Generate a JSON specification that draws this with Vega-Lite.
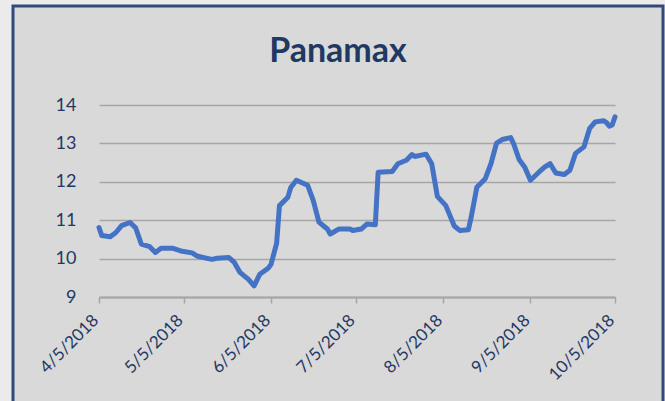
{
  "$schema": "https://vega.github.io/schema/vega-lite/v6.json",
  "width": 650,
  "height": 400,
  "autosize": "none",
  "padding": {"left": 13, "top": 6, "right": 2, "bottom": 0},
  "background": "#ebebeb",
  "config": {
    "view": {"fill": "#d9d9d9", "stroke": "#2f4b7c", "strokeWidth": 3},
    "font": "Lato"
  },
  "title": {
    "text": "Panamax",
    "font": "Lato",
    "fontSize": 34,
    "fontWeight": "bold",
    "color": "#1f3864",
    "anchor": "middle",
    "frame": "group",
    "baseline": "alphabetic",
    "offset": -90
  },
  "data": {
    "values": [
      {"date": "2018-04-05", "value": 10.81},
      {"date": "2018-04-06", "value": 10.60},
      {"date": "2018-04-09", "value": 10.57},
      {"date": "2018-04-11", "value": 10.68},
      {"date": "2018-04-13", "value": 10.86},
      {"date": "2018-04-16", "value": 10.94},
      {"date": "2018-04-18", "value": 10.80},
      {"date": "2018-04-20", "value": 10.38},
      {"date": "2018-04-23", "value": 10.31},
      {"date": "2018-04-25", "value": 10.16},
      {"date": "2018-04-27", "value": 10.27},
      {"date": "2018-05-01", "value": 10.27},
      {"date": "2018-05-04", "value": 10.20},
      {"date": "2018-05-08", "value": 10.15},
      {"date": "2018-05-10", "value": 10.06},
      {"date": "2018-05-15", "value": 9.98},
      {"date": "2018-05-17", "value": 10.01},
      {"date": "2018-05-21", "value": 10.03},
      {"date": "2018-05-23", "value": 9.90},
      {"date": "2018-05-25", "value": 9.64},
      {"date": "2018-05-28", "value": 9.46},
      {"date": "2018-05-30", "value": 9.29},
      {"date": "2018-06-01", "value": 9.59},
      {"date": "2018-06-04", "value": 9.75},
      {"date": "2018-06-05", "value": 9.85},
      {"date": "2018-06-07", "value": 10.40},
      {"date": "2018-06-08", "value": 11.38},
      {"date": "2018-06-11", "value": 11.60},
      {"date": "2018-06-12", "value": 11.85},
      {"date": "2018-06-14", "value": 12.04},
      {"date": "2018-06-18", "value": 11.91},
      {"date": "2018-06-20", "value": 11.51},
      {"date": "2018-06-22", "value": 10.95},
      {"date": "2018-06-24", "value": 10.83},
      {"date": "2018-06-25", "value": 10.77},
      {"date": "2018-06-26", "value": 10.64},
      {"date": "2018-06-29", "value": 10.77},
      {"date": "2018-07-03", "value": 10.77},
      {"date": "2018-07-04", "value": 10.73},
      {"date": "2018-07-07", "value": 10.77},
      {"date": "2018-07-09", "value": 10.90},
      {"date": "2018-07-12", "value": 10.88},
      {"date": "2018-07-13", "value": 12.25},
      {"date": "2018-07-18", "value": 12.27},
      {"date": "2018-07-20", "value": 12.47},
      {"date": "2018-07-23", "value": 12.56},
      {"date": "2018-07-25", "value": 12.71},
      {"date": "2018-07-26", "value": 12.66},
      {"date": "2018-07-30", "value": 12.72},
      {"date": "2018-08-01", "value": 12.47},
      {"date": "2018-08-03", "value": 11.62},
      {"date": "2018-08-06", "value": 11.38},
      {"date": "2018-08-09", "value": 10.85},
      {"date": "2018-08-11", "value": 10.73},
      {"date": "2018-08-14", "value": 10.75},
      {"date": "2018-08-15", "value": 11.08},
      {"date": "2018-08-17", "value": 11.86},
      {"date": "2018-08-20", "value": 12.08},
      {"date": "2018-08-22", "value": 12.47},
      {"date": "2018-08-24", "value": 13.01},
      {"date": "2018-08-26", "value": 13.10},
      {"date": "2018-08-29", "value": 13.15},
      {"date": "2018-08-30", "value": 13.00},
      {"date": "2018-09-01", "value": 12.58},
      {"date": "2018-09-03", "value": 12.38},
      {"date": "2018-09-05", "value": 12.04},
      {"date": "2018-09-08", "value": 12.25},
      {"date": "2018-09-10", "value": 12.38},
      {"date": "2018-09-12", "value": 12.47},
      {"date": "2018-09-14", "value": 12.23},
      {"date": "2018-09-17", "value": 12.19},
      {"date": "2018-09-19", "value": 12.30},
      {"date": "2018-09-21", "value": 12.74},
      {"date": "2018-09-24", "value": 12.91},
      {"date": "2018-09-26", "value": 13.39},
      {"date": "2018-09-28", "value": 13.56},
      {"date": "2018-10-01", "value": 13.59},
      {"date": "2018-10-02", "value": 13.54},
      {"date": "2018-10-03", "value": 13.45},
      {"date": "2018-10-04", "value": 13.48},
      {"date": "2018-10-05", "value": 13.69}
    ]
  },
  "mark": {
    "type": "line",
    "color": "#4472c4",
    "strokeWidth": 5,
    "strokeJoin": "round",
    "strokeCap": "round"
  },
  "encoding": {
    "x": {
      "field": "date",
      "type": "temporal",
      "scale": {
        "type": "utc",
        "domain": [
          {"year": 2018, "month": 4, "date": 5, "utc": true},
          {"year": 2018, "month": 10, "date": 5, "utc": true}
        ],
        "range": [86, 602]
      },
      "axis": {
        "title": null,
        "orient": "bottom",
        "offset": -109,
        "values": [
          {"year": 2018, "month": 4, "date": 5, "utc": true},
          {"year": 2018, "month": 5, "date": 5, "utc": true},
          {"year": 2018, "month": 6, "date": 5, "utc": true},
          {"year": 2018, "month": 7, "date": 5, "utc": true},
          {"year": 2018, "month": 8, "date": 5, "utc": true},
          {"year": 2018, "month": 9, "date": 5, "utc": true},
          {"year": 2018, "month": 10, "date": 5, "utc": true}
        ],
        "format": "%-m/%-d/%Y",
        "grid": false,
        "domainColor": "#a6a6a6",
        "domainWidth": 2,
        "tickColor": "#a6a6a6",
        "tickWidth": 1.5,
        "tickSize": 6,
        "labelAngle": -45,
        "labelAlign": "right",
        "labelBaseline": "alphabetic",
        "labelPadding": 18,
        "labelFont": "Lato",
        "labelFontSize": 17,
        "labelColor": "#1f3864",
        "labelOverlap": false,
        "labelFlush": false
      }
    },
    "y": {
      "field": "value",
      "type": "quantitative",
      "scale": {"domain": [9, 14], "range": [291, 99], "nice": false, "zero": false},
      "axis": {
        "title": null,
        "orient": "left",
        "offset": -86,
        "values": [9, 10, 11, 12, 13, 14],
        "domain": false,
        "ticks": false,
        "grid": true,
        "gridColor": "#a6a6a6",
        "gridWidth": 1.5,
        "labelPadding": 23,
        "labelFont": "Lato",
        "labelFontSize": 18,
        "labelColor": "#1f3864"
      }
    }
  }
}
